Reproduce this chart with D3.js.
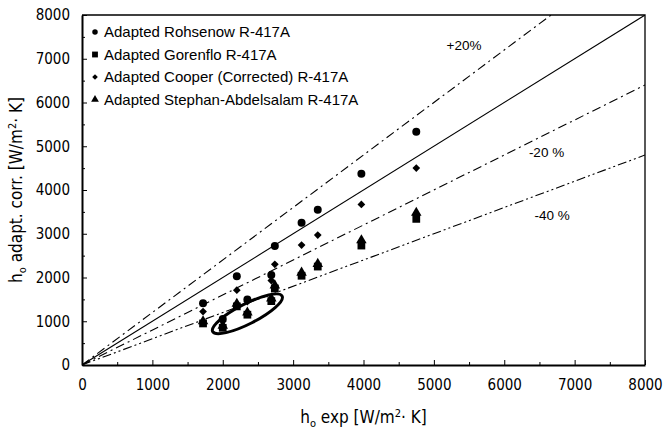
<!DOCTYPE html>
<html>
<head>
<meta charset="utf-8">
<script src="https://d3js.org/d3.v7.min.js"></script>
<style>
  body { margin: 0; background: #fff; }
  .tick text { font-family: "Liberation Sans Narrow", "DejaVu Sans Condensed", "DejaVu Sans", sans-serif; font-stretch: condensed; font-size: 15px; fill: #000; }
  .legend text { font-family: "Liberation Sans", Arial, sans-serif; font-size: 15px; }
  .pct { font-family: "Liberation Sans", Arial, sans-serif; font-size: 13.5px; }
  .title { font-family: "Liberation Sans Narrow", "DejaVu Sans Condensed", "DejaVu Sans", sans-serif; font-stretch: condensed; font-size: 17px; }
</style>
</head>
<body>
<svg width="663" height="432"></svg>
<script>
// experimental h values (x) shared by all correlations
var hExp = [1720, 2000, 2200, 2350, 2690, 2740, 3120, 3350, 3970, 4750];
var rohsenow = [1410, 1050, 2030, 1500, 2060, 2720, 3250, 3550, 4370, 5330];
var gorenflo = [950, 850, 1340, 1150, 1460, 1750, 2040, 2250, 2730, 3340];
var cooper = [1220, 1000, 1710, 1450, 1930, 2300, 2740, 2970, 3670, 4500];
var stephan = [1000, 900, 1400, 1200, 1520, 1820, 2110, 2310, 2850, 3480];

var seriesNames = ["Adapted Rohsenow R-417A", "Adapted Gorenflo R-417A",
  "Adapted Cooper (Corrected) R-417A", "Adapted Stephan-Abdelsalam  R-417A"];

// deviation lines: ratio and label
var bandRatios = [1.0, 1.2, 0.8, 0.6];
var bandLabels = ["", "+20%", "-20 %", "-40 %"];
var tickValues = [0, 1000, 2000, 3000, 4000, 5000, 6000, 7000, 8000];

var margin = {top: 15, right: 18, bottom: 67, left: 82},
    width = 663 - margin.left - margin.right,
    height = 432 - margin.top - margin.bottom;

var svg = d3.select("svg")
  .append("g")
  .attr("transform", "translate(" + margin.left + "," + margin.top + ")");

var x = d3.scaleLinear().domain([0, 8000]).range([0, width]);
var y = d3.scaleLinear().domain([0, 8000]).range([height, 0]);

svg.append("clipPath").attr("id", "clip")
  .append("rect").attr("width", width).attr("height", height);

// minor ticks (inside)
var minor = d3.range(500, 8000, 1000);
svg.append("g")
  .attr("transform", "translate(0," + height + ")")
  .call(d3.axisTop(x).tickValues(minor).tickSize(3).tickFormat(""))
  .call(function(g) { g.select(".domain").remove(); });
svg.append("g")
  .call(d3.axisRight(y).tickValues(minor).tickSize(3).tickFormat(""))
  .call(function(g) { g.select(".domain").remove(); });

// major ticks inside, labels outside
var xAxis = svg.append("g")
  .attr("transform", "translate(0," + height + ")")
  .call(d3.axisBottom(x).tickValues(tickValues).tickFormat(d3.format("d"))
    .tickSizeInner(-5).tickSizeOuter(0).tickPadding(14));
xAxis.select(".domain").attr("stroke-width", 2);

var yAxis = svg.append("g")
  .call(d3.axisLeft(y).tickValues(tickValues).tickFormat(d3.format("d"))
    .tickSizeInner(-5).tickSizeOuter(0).tickPadding(12));
yAxis.select(".domain").attr("stroke-width", 2);

// top and right frame
svg.append("path")
  .attr("d", "M0,0H" + width + "V" + height)
  .attr("fill", "none").attr("stroke", "#000").attr("stroke-width", 1.3);

// reference lines
var dashes = [null, "9,4,2,4", "9,4,2,4", "9,3,2,3,2,3"];
var lines = svg.append("g").attr("clip-path", "url(#clip)");
bandRatios.forEach(function(r, i) {
  lines.append("line")
    .attr("x1", x(0)).attr("y1", y(0))
    .attr("x2", x(8000)).attr("y2", y(8000 * r))
    .attr("stroke", "#000").attr("stroke-width", 1.1)
    .attr("stroke-dasharray", dashes[i]);
});

// line labels
var labelPos = [null, [5180, 7200], [6350, 4750], [6430, 3310]];
bandLabels.forEach(function(t, i) {
  if (!t) return;
  svg.append("text").attr("class", "pct")
    .attr("x", x(labelPos[i][0])).attr("y", y(labelPos[i][1]))
    .text(t);
});

// ellipse around low points
var ell = {cx: 2350, cy: 1170};
svg.append("ellipse")
  .attr("transform", "translate(" + x(ell.cx) + "," + y(ell.cy) + ") rotate(-27)")
  .attr("rx", 39).attr("ry", 10)
  .attr("fill", "none").attr("stroke", "#000").attr("stroke-width", 3);

// markers (diamond = square turned 45 degrees)
var sym = [d3.symbolCircle, d3.symbolSquare, d3.symbolSquare, d3.symbolTriangle];
var rot = [0, 0, 45, 0];
var sizes = [50, 60, 30, 48];
var allSeries = [rohsenow, gorenflo, cooper, stephan];
var drawOrder = [1, 3, 2, 0];
drawOrder.forEach(function(k) {
  svg.append("g").selectAll("path")
    .data(allSeries[k])
    .enter().append("path")
    .attr("transform", function(d, i) {
      return "translate(" + x(hExp[i]) + "," + y(d) + ") rotate(" + rot[k] + ")";
    })
    .attr("d", d3.symbol().type(sym[k]).size(sizes[k]))
    .attr("fill", "#000");
});

// legend
var legend = svg.append("g").attr("class", "legend");
seriesNames.forEach(function(n, i) {
  var ly = 17 + i * 22.5;
  legend.append("path")
    .attr("transform", "translate(13," + ly + ") rotate(" + rot[i] + ")")
    .attr("d", d3.symbol().type(sym[i]).size([24, 34, 16, 26][i]))
    .attr("fill", "#000");
  legend.append("text").attr("x", 22).attr("y", ly + 5).text(n);
});

// axis titles
var xt = svg.append("text").attr("class", "title")
  .attr("x", width / 2).attr("y", height + 58).attr("text-anchor", "middle");
xt.append("tspan").text("h");
xt.append("tspan").attr("font-size", "11px").attr("dy", 4).text("o");
xt.append("tspan").attr("dy", -4).text(" exp [W/m");
xt.append("tspan").attr("font-size", "11px").attr("dy", -6).text("2");
xt.append("tspan").attr("dy", 6).text("\u00b7 K]");

var yt = svg.append("text").attr("class", "title")
  .attr("transform", "translate(-60," + (height / 2) + ") rotate(-90)")
  .attr("text-anchor", "middle");
yt.append("tspan").text("h");
yt.append("tspan").attr("font-size", "11px").attr("dy", 4).text("o");
yt.append("tspan").attr("dy", -4).text(" adapt. corr. [W/m");
yt.append("tspan").attr("font-size", "11px").attr("dy", -6).text("2");
yt.append("tspan").attr("dy", 6).text("\u00b7 K]");
</script>
</body>
</html>
